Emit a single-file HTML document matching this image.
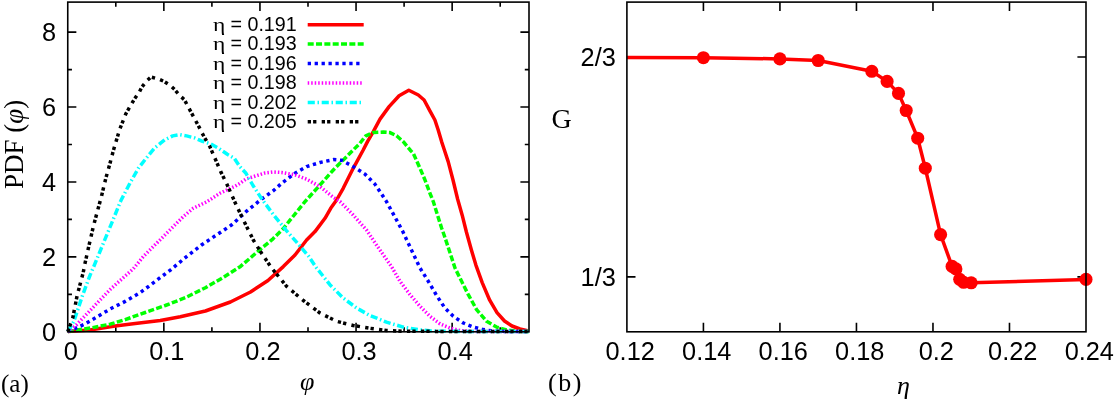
<!DOCTYPE html>
<html><head><meta charset="utf-8"><title>figure</title>
<style>html,body{margin:0;padding:0;background:#fff}svg{display:block;will-change:transform}text{font-kerning:none}.s{font-family:"Liberation Sans",sans-serif;font-size:25.35px;fill:#000}.k{font-family:"Liberation Sans",sans-serif;font-size:19.7px;fill:#000}.ke{font-family:"Liberation Serif",serif;font-size:20.5px;fill:#000}.lb{font-family:"Liberation Serif",serif;fill:#000}.ax{stroke:#000;stroke-width:1.6;fill:none}</style></head><body>
<svg width="1117" height="403" viewBox="0 0 1117 403">
<rect x="0" y="0" width="1117" height="403" fill="#fff"/>
<path class="ax" d="M115.80 331.8v-4.6M115.80 2.1v4.6M163.85 331.8v-9.0M163.85 2.1v9.0M211.90 331.8v-4.6M211.90 2.1v4.6M259.95 331.8v-9.0M259.95 2.1v9.0M308.00 331.8v-4.6M308.00 2.1v4.6M356.05 331.8v-9.0M356.05 2.1v9.0M404.10 331.8v-4.6M404.10 2.1v4.6M452.15 331.8v-9.0M452.15 2.1v9.0M500.20 331.8v-4.6M500.20 2.1v4.6M67.75 294.34h4.199999999999999M529.0 294.34h-4.199999999999999M67.75 256.88h8.6M529.0 256.88h-8.6M67.75 219.42h4.199999999999999M529.0 219.42h-4.199999999999999M67.75 181.96h8.6M529.0 181.96h-8.6M67.75 144.50h4.199999999999999M529.0 144.50h-4.199999999999999M67.75 107.04h8.6M529.0 107.04h-8.6M67.75 69.58h4.199999999999999M529.0 69.58h-4.199999999999999M67.75 32.12h8.6M529.0 32.12h-8.6M703.42 331.8v-9.0M703.42 2.1v9.0M779.93 331.8v-9.0M779.93 2.1v9.0M856.45 331.8v-9.0M856.45 2.1v9.0M932.97 331.8v-9.0M932.97 2.1v9.0M1009.48 331.8v-9.0M1009.48 2.1v9.0M626.9 57.05h8.6M1086.0 57.05h-8.6M626.9 276.85h8.6M1086.0 276.85h-8.6"/>
<clipPath id="cl"><rect x="65.75" y="2.1" width="465.25" height="333.7"/></clipPath>
<g clip-path="url(#cl)" fill="none" stroke-linejoin="round">
<polyline points="67.8,331.6 90.0,329.9 115.1,326.0 135.2,323.6 160.3,320.5 180.3,316.8 205.4,311.0 230.4,302.0 250.5,292.0 268.0,280.5 283.3,266.6 295.0,255.0 306.6,240.0 315.0,231.6 325.0,218.3 330.7,208.3 336.6,200.0 343.2,188.3 353.2,168.3 363.2,150.0 367.5,141.6 373.3,131.6 380.0,119.1 389.1,106.6 399.1,95.8 408.8,90.3 418.3,95.0 424.1,100.0 429.9,110.8 434.9,120.0 438.2,130.0 441.6,141.6 443.3,146.7 448.2,161.6 453.0,180.0 457.6,199.0 462.2,215.2 466.4,232.0 471.4,250.0 475.9,265.1 482.2,282.6 489.7,300.2 497.0,312.7 504.5,321.0 512.0,326.0 520.0,329.0 527.5,330.8" stroke="#ff0000" stroke-width="3.5"/>
<polyline points="67.8,331.6 92.6,327.6 110.1,324.2 125.2,319.6 145.2,312.5 165.3,305.5 185.3,297.7 205.4,287.7 222.9,277.6 240.5,266.4 258.0,251.3 273.0,238.8 283.1,228.8 290.0,220.2 305.0,201.6 320.0,185.0 333.3,170.0 346.6,156.6 359.9,143.3 365.8,135.8 373.3,132.5 383.3,132.1 390.0,132.6 396.6,135.8 403.3,141.7 410.3,150.2 413.3,153.3 420.0,168.3 425.0,180.0 430.0,193.3 433.3,201.6 437.5,215.0 441.6,228.0 444.1,235.0 449.1,250.0 455.0,268.0 461.6,281.3 468.3,294.6 476.6,309.6 486.6,321.3 496.6,327.1 506.6,330.0 520.6,331.5 528.6,331.6" stroke="#00ff00" stroke-width="3.5" stroke-dasharray="6 2.33"/>
<polyline points="67.8,331.6 85.1,324.0 97.6,316.5 110.1,309.0 125.2,301.4 140.2,292.7 155.2,281.4 170.3,270.1 186.6,256.6 201.5,245.0 216.5,235.0 231.5,225.0 246.0,211.7 261.6,199.1 273.3,190.8 281.6,183.3 295.0,173.3 306.6,166.6 320.0,162.5 333.3,159.6 341.6,160.3 353.2,166.6 364.9,174.1 374.9,184.1 381.6,194.1 386.5,201.6 395.3,217.7 402.8,231.5 410.3,247.5 420.0,268.0 428.3,281.3 436.6,295.5 444.9,308.0 453.3,316.3 463.3,323.0 473.3,327.1 483.2,329.6 495.0,331.3 528.6,331.6" stroke="#0000ff" stroke-width="3.5" stroke-dasharray="3.3 3.63"/>
<polyline points="67.8,331.6 76.7,324.6 93.3,307.1 110.0,289.6 126.6,274.7 133.3,268.8 143.3,256.6 156.6,243.3 169.9,230.0 183.2,216.7 193.2,208.3 206.5,202.0 220.4,193.0 235.4,186.0 240.0,183.3 246.0,179.0 256.7,175.6 265.0,173.0 273.0,172.0 281.6,172.5 295.0,174.9 306.6,179.1 320.0,186.6 333.3,197.4 340.0,201.6 353.2,215.0 366.5,230.0 376.5,245.0 391.5,266.6 400.0,281.3 410.0,294.6 420.0,306.3 430.0,316.3 440.0,323.8 450.0,328.0 460.0,330.5 475.5,331.6 528.6,331.6" stroke="#ff00ff" stroke-width="3.5" stroke-dasharray="1.5 2.0"/>
<polyline points="67.8,331.6 73.8,321.5 82.6,295.2 90.1,275.1 94.1,265.8 103.3,243.3 111.6,223.3 120.8,200.8 129.9,183.3 138.3,168.3 145.4,159.2 154.8,147.8 164.7,139.9 172.7,135.9 179.6,134.7 186.6,135.9 194.5,137.9 202.5,141.3 210.4,143.8 219.3,148.8 227.3,154.3 234.2,158.2 239.8,166.6 246.0,173.3 253.0,185.5 262.5,200.0 275.0,216.7 286.6,230.8 298.3,244.1 308.3,255.8 316.6,268.0 329.9,284.7 343.2,298.0 356.6,308.0 369.9,315.5 386.5,322.1 403.2,327.1 420.0,329.9 436.6,331.3 528.6,331.6" stroke="#00ffff" stroke-width="3.5" stroke-dasharray="7.1 2.7 1.5 2.7"/>
<polyline points="67.8,331.6 72.8,317.7 77.2,295.2 83.2,272.6 85.0,263.3 89.1,245.0 93.3,226.6 97.2,212.0 101.6,195.8 105.8,178.3 110.0,163.3 113.3,150.8 117.5,136.7 119.6,129.6 125.8,113.8 134.3,99.2 139.2,92.3 141.7,87.3 146.7,80.9 151.1,77.0 158.1,78.9 163.6,81.2 170.5,85.6 174.5,89.3 179.9,95.7 184.4,99.7 189.0,108.3 199.0,126.9 204.0,136.7 209.9,146.7 215.7,160.0 220.7,171.6 226.5,183.3 233.2,198.3 236.6,205.8 245.0,223.3 253.3,240.0 261.6,253.3 271.6,268.0 286.6,286.3 303.3,300.5 320.0,313.0 336.6,321.3 353.2,325.5 370.0,328.3 386.5,330.5 403.2,331.3 528.6,331.6" stroke="#000000" stroke-width="3.5" stroke-dasharray="3.3 2.1 3.3 5.3"/>
</g>
<polyline points="626.9,57.5 703.4,57.7 779.9,58.9 818.2,60.5 871.8,71.3 887.1,81.4 898.5,93.4 906.2,110.5 917.7,138.2 925.3,168.2 940.6,234.6 952.1,266.4 955.9,268.9 959.7,279.3 963.6,282.3 971.2,282.8 1086.0,279.4" fill="none" stroke="#ff0000" stroke-width="3.5" stroke-linejoin="round"/>
<g fill="#ff0000"><circle cx="703.4" cy="57.7" r="6.55"/><circle cx="779.9" cy="58.9" r="6.55"/><circle cx="818.2" cy="60.5" r="6.55"/><circle cx="871.8" cy="71.3" r="6.55"/><circle cx="887.1" cy="81.4" r="6.55"/><circle cx="898.5" cy="93.4" r="6.55"/><circle cx="906.2" cy="110.5" r="6.55"/><circle cx="917.7" cy="138.2" r="6.55"/><circle cx="925.3" cy="168.2" r="6.55"/><circle cx="940.6" cy="234.6" r="6.55"/><circle cx="952.1" cy="266.4" r="6.55"/><circle cx="955.9" cy="268.9" r="6.55"/><circle cx="959.7" cy="279.3" r="6.55"/><circle cx="963.6" cy="282.3" r="6.55"/><circle cx="971.2" cy="282.8" r="6.55"/><circle cx="1086.0" cy="279.4" r="6.55"/></g>
<line x1="307.7" y1="24.7" x2="363.7" y2="24.7" stroke="#ff0000" stroke-width="3.5"/>
<text class="k" transform="translate(247.45,31.00) scale(1,1.045)">0.191</text>
<text class="k" x="230.5" y="31.0">=</text>
<text class="ke" transform="translate(212.9,31.0) scale(1.15,0.97)">η</text>
<line x1="307.7" y1="44.1" x2="363.7" y2="44.1" stroke="#00ff00" stroke-width="3.5" stroke-dasharray="6 2.33"/>
<text class="k" transform="translate(247.45,50.40) scale(1,1.045)">0.193</text>
<text class="k" x="230.5" y="50.4">=</text>
<text class="ke" transform="translate(212.9,50.4) scale(1.15,0.97)">η</text>
<line x1="307.7" y1="63.5" x2="362.9" y2="63.5" stroke="#0000ff" stroke-width="3.5" stroke-dasharray="3.3 3.63"/>
<text class="k" transform="translate(247.45,69.80) scale(1,1.045)">0.196</text>
<text class="k" x="230.5" y="69.8">=</text>
<text class="ke" transform="translate(212.9,69.8) scale(1.15,0.97)">η</text>
<line x1="307.7" y1="82.9" x2="363.7" y2="82.9" stroke="#ff00ff" stroke-width="3.5" stroke-dasharray="1.5 2.0"/>
<text class="k" transform="translate(247.45,89.20) scale(1,1.045)">0.198</text>
<text class="k" x="230.5" y="89.2">=</text>
<text class="ke" transform="translate(212.9,89.2) scale(1.15,0.97)">η</text>
<line x1="307.7" y1="102.4" x2="363.7" y2="102.4" stroke="#00ffff" stroke-width="3.5" stroke-dasharray="7.1 2.7 1.5 2.7"/>
<text class="k" transform="translate(247.45,108.70) scale(1,1.045)">0.202</text>
<text class="k" x="230.5" y="108.7">=</text>
<text class="ke" transform="translate(212.9,108.7) scale(1.15,0.97)">η</text>
<line x1="307.7" y1="121.8" x2="363.7" y2="121.8" stroke="#000000" stroke-width="3.5" stroke-dasharray="3.3 2.1 3.3 5.3"/>
<text class="k" transform="translate(247.45,128.10) scale(1,1.045)">0.205</text>
<text class="k" x="230.5" y="128.1">=</text>
<text class="ke" transform="translate(212.9,128.1) scale(1.15,0.97)">η</text>
<rect class="ax" x="67.75" y="2.1" width="461.25" height="329.7"/>
<rect class="ax" x="626.9" y="2.1" width="459.1" height="329.7"/>
<text class="s" transform="translate(42.01,340.70) scale(1,1.045)">0</text>
<text class="s" transform="translate(42.01,265.78) scale(1,1.045)">2</text>
<text class="s" transform="translate(42.01,190.86) scale(1,1.045)">4</text>
<text class="s" transform="translate(42.01,115.94) scale(1,1.045)">6</text>
<text class="s" transform="translate(42.01,41.02) scale(1,1.045)">8</text>
<text class="s" transform="translate(63.70,360.25) scale(1,1.045)">0</text>
<text class="s" transform="translate(149.23,360.25) scale(1,1.045)">0.1</text>
<text class="s" transform="translate(245.33,360.25) scale(1,1.045)">0.2</text>
<text class="s" transform="translate(341.43,360.25) scale(1,1.045)">0.3</text>
<text class="s" transform="translate(437.53,360.25) scale(1,1.045)">0.4</text>
<text class="s" transform="translate(580.56,65.85) scale(1,1.045)">2/3</text>
<text class="s" transform="translate(580.56,285.65) scale(1,1.045)">1/3</text>
<text class="s" transform="translate(605.53,360.25) scale(1,1.045)">0.12</text>
<text class="s" transform="translate(682.05,360.25) scale(1,1.045)">0.14</text>
<text class="s" transform="translate(758.57,360.25) scale(1,1.045)">0.16</text>
<text class="s" transform="translate(835.08,360.25) scale(1,1.045)">0.18</text>
<text class="s" transform="translate(918.65,360.25) scale(1,1.045)">0.2</text>
<text class="s" transform="translate(988.12,360.25) scale(1,1.045)">0.22</text>
<text class="s" transform="translate(1064.63,360.25) scale(1,1.045)">0.24</text>
<text class="lb" x="1" y="391.5" font-size="25">(a)</text>
<text class="lb" transform="translate(22.75,189) rotate(-90)" font-size="27">PDF (<tspan font-style="italic">φ</tspan>)</text>
<text class="lb" x="300" y="390" font-size="26" font-style="italic">φ</text>
<text class="lb" x="551.5" y="127.5" font-size="28">G</text>
<text class="lb" x="548" y="391" font-size="26" letter-spacing="1.5">(b)</text>
<text class="lb" x="897" y="394" font-size="26" font-style="italic">η</text>
</svg></body></html>
